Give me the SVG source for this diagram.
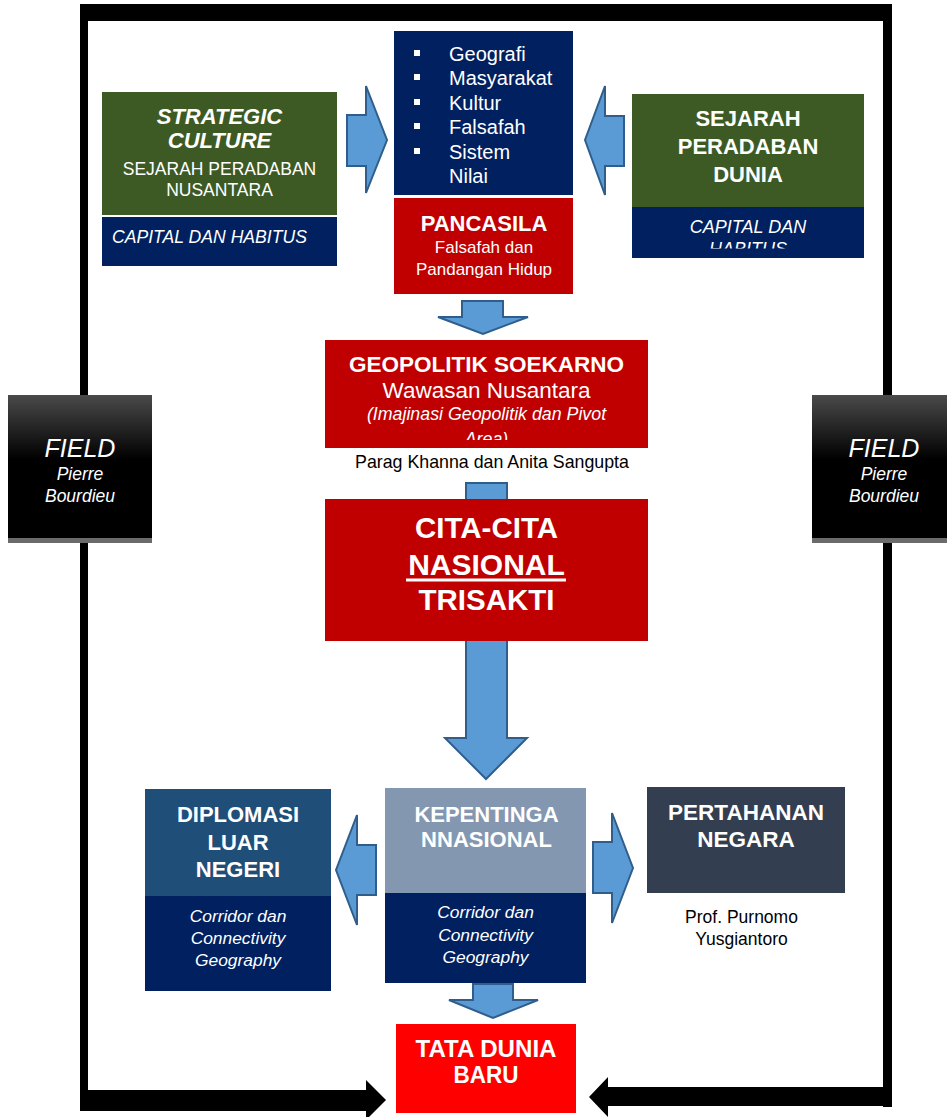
<svg xmlns="http://www.w3.org/2000/svg" width="947" height="1117" viewBox="0 0 947 1117">
  <defs>
    <style>
      text { font-family: "Liberation Sans", Arial, sans-serif; fill: #ffffff; text-anchor: middle; }
      .b { font-weight: bold; }
      .i { font-style: italic; }
      .dark { fill: #000000; }
      .blk { fill: #5B9BD5; stroke: #2F5E8C; stroke-width: 2; stroke-linejoin: miter; }
      .frame { fill: #000000; }
    </style>
    <linearGradient id="fieldGrad" x1="0" y1="0" x2="0" y2="1">
      <stop offset="0" stop-color="#4a4a4a"/>
      <stop offset="0.45" stop-color="#000000"/>
      <stop offset="1" stop-color="#000000"/>
    </linearGradient>
    <clipPath id="clipHabitus"><rect x="632" y="207" width="232" height="41.5"/></clipPath>
    <clipPath id="clipArea"><rect x="325" y="340" width="323" height="100"/></clipPath>
  </defs>

  <!-- frame and block-arrow connectors -->
  <g id="connectors">
    <!-- outer feedback frame -->
    <rect class="frame" x="80" y="4" width="812" height="17"/>
    <rect class="frame" x="80" y="4" width="8" height="1107"/>
    <rect class="frame" x="883" y="4" width="9" height="1103"/>
    <polygon class="frame" points="80,1090 366,1090 366,1080 386,1100 366,1120 366,1111 80,1111"/>
    <polygon class="frame" points="892,1087 608,1087 608,1077 589,1097 608,1117 608,1106 892,1106"/>

    <!-- block arrows -->
    <polygon class="blk" points="347,115 366,115 366,86 387,140 366,193 366,166 347,166"/>
    <polygon class="blk" points="624,116 605,116 605,86 585,140 605,195 605,166 624,166"/>
    <polygon class="blk" points="462,301 503,301 503,317 528,317 483,334 438,317 462,317"/>
    <polygon class="blk" points="466,483 507,483 507,738 527,738 486,779 445,738 466,738"/>
    <polygon class="blk" points="376,845 357,845 357,815 336,870 357,925 357,895 376,895"/>
    <polygon class="blk" points="593,842 612,842 612,813 633,868 612,923 612,893 593,893"/>
    <polygon class="blk" points="473,984 513,984 513,1000 538,1000 493,1018 449,1000 473,1000"/>
  </g>

  <!-- FIELD, left -->
  <g id="field-left">
    <rect x="8" y="538" width="144" height="5" fill="#6b6b6b"/>
    <rect x="8" y="395" width="144" height="143" fill="url(#fieldGrad)"/>
    <text class="i" x="80" y="457" font-size="25">FIELD</text>
    <text class="i" x="80" y="480" font-size="17.5">Pierre</text>
    <text class="i" x="80" y="502" font-size="17.5">Bourdieu</text>
  </g>

  <!-- FIELD, right -->
  <g id="field-right">
    <rect x="812" y="538" width="135" height="5" fill="#6b6b6b"/>
    <rect x="812" y="395" width="135" height="143" fill="url(#fieldGrad)"/>
    <text class="i" x="884" y="457" font-size="25">FIELD</text>
    <text class="i" x="884" y="480" font-size="17.5">Pierre</text>
    <text class="i" x="884" y="502" font-size="17.5">Bourdieu</text>
  </g>

  <!-- Strategic culture -->
  <g id="strategic-culture">
    <rect x="102" y="92" width="235" height="123" fill="#3D5A25"/>
    <rect x="102" y="217" width="235" height="49" fill="#002060"/>
    <text class="b i" x="219.5" y="124" font-size="22">STRATEGIC</text>
    <text class="b i" x="219.5" y="148" font-size="22">CULTURE</text>
    <text x="219.5" y="175" font-size="17.5">SEJARAH PERADABAN</text>
    <text x="219.5" y="196" font-size="17.5">NUSANTARA</text>
    <text class="i" x="112" y="243" font-size="17.6" style="text-anchor:start">CAPITAL DAN HABITUS</text>
  </g>

  <!-- Bullet list -->
  <g id="list">
    <rect x="394" y="31" width="179" height="164" fill="#002060"/>
    <g fill="#ffffff">
      <rect x="414" y="50" width="6" height="6"/>
      <rect x="414" y="74" width="6" height="6"/>
      <rect x="414" y="99" width="6" height="6"/>
      <rect x="414" y="123" width="6" height="6"/>
      <rect x="414" y="148" width="6" height="6"/>
    </g>
    <g font-size="20">
      <text x="449" y="61" style="text-anchor:start">Geografi</text>
      <text x="449" y="85" style="text-anchor:start">Masyarakat</text>
      <text x="449" y="110" style="text-anchor:start">Kultur</text>
      <text x="449" y="134" style="text-anchor:start">Falsafah</text>
      <text x="449" y="159" style="text-anchor:start">Sistem</text>
      <text x="449" y="183" style="text-anchor:start">Nilai</text>
    </g>
  </g>

  <!-- Pancasila -->
  <g id="pancasila">
    <rect x="394" y="198" width="179" height="96" fill="#C00000"/>
    <text class="b" x="484" y="231" font-size="22">PANCASILA</text>
    <text x="484" y="253" font-size="17">Falsafah dan</text>
    <text x="484" y="275" font-size="17">Pandangan Hidup</text>
  </g>

  <!-- Sejarah peradaban dunia -->
  <g id="sejarah-dunia">
    <rect x="632" y="94" width="232" height="113" fill="#3D5A25"/>
    <rect x="632" y="207" width="232" height="51" fill="#002060"/>
    <text class="b" x="748" y="126" font-size="22">SEJARAH</text>
    <text class="b" x="748" y="154" font-size="22">PERADABAN</text>
    <text class="b" x="748" y="182" font-size="22">DUNIA</text>
    <text class="i" x="748" y="233" font-size="18">CAPITAL DAN</text>
    <text class="i" x="748" y="255" font-size="18" clip-path="url(#clipHabitus)">HABITUS</text>
  </g>

  <!-- Geopolitik Soekarno -->
  <g id="geopolitik">
    <rect x="325" y="340" width="323" height="108" fill="#C00000"/>
    <text class="b" x="486.5" y="372" font-size="22.5">GEOPOLITIK SOEKARNO</text>
    <text x="486.5" y="398" font-size="22.5">Wawasan Nusantara</text>
    <text class="i" x="486.5" y="420" font-size="17.8">(Imajinasi Geopolitik dan Pivot</text>
    <text class="i" x="486.5" y="444.5" font-size="17.8" clip-path="url(#clipArea)">Area)</text>
    <text class="dark" x="492" y="468" font-size="17.8">Parag Khanna dan Anita Sangupta</text>
  </g>

  <!-- Cita-cita nasional -->
  <g id="cita-cita">
    <rect x="325" y="499" width="323" height="142" fill="#C00000"/>
    <text class="b" x="486.5" y="538" font-size="29.5">CITA-CITA</text>
    <text class="b" x="486.5" y="575" font-size="30">NASIONAL</text>
    <rect x="406" y="578.5" width="160" height="3" fill="#ffffff"/>
    <text class="b" x="486.5" y="610" font-size="29.5">TRISAKTI</text>
  </g>

  <!-- Diplomasi luar negeri -->
  <g id="diplomasi">
    <rect x="145" y="789" width="186" height="107" fill="#1F4E79"/>
    <rect x="145" y="896" width="186" height="95" fill="#002060"/>
    <text class="b" x="238" y="822" font-size="22">DIPLOMASI</text>
    <text class="b" x="238" y="850" font-size="22">LUAR</text>
    <text class="b" x="238" y="877" font-size="22">NEGERI</text>
    <text class="i" x="238" y="922" font-size="17.4">Corridor dan</text>
    <text class="i" x="238" y="944" font-size="17.4">Connectivity</text>
    <text class="i" x="238" y="966" font-size="17.4">Geography</text>
  </g>

  <!-- Kepentingan nasional -->
  <g id="kepentingan">
    <rect x="385" y="788" width="201" height="105" fill="#8497B0"/>
    <rect x="385" y="893" width="201" height="90" fill="#002060"/>
    <text class="b" x="486.5" y="822" font-size="22">KEPENTINGA</text>
    <text class="b" x="486.5" y="847" font-size="22">NNASIONAL</text>
    <text class="i" x="485.5" y="918" font-size="17.4">Corridor dan</text>
    <text class="i" x="485.5" y="941" font-size="17.4">Connectivity</text>
    <text class="i" x="485.5" y="963" font-size="17.4">Geography</text>
  </g>

  <!-- Pertahanan negara -->
  <g id="pertahanan">
    <rect x="647" y="787" width="198" height="106" fill="#333F50"/>
    <text class="b" x="746" y="820" font-size="22.5">PERTAHANAN</text>
    <text class="b" x="746" y="847" font-size="22.5">NEGARA</text>
    <text class="dark" x="741.5" y="923" font-size="17.5">Prof. Purnomo</text>
    <text class="dark" x="741.5" y="945" font-size="17.5">Yusgiantoro</text>
  </g>

  <!-- Tata dunia baru -->
  <g id="tata-dunia">
    <rect x="396" y="1024" width="180" height="89" fill="#FF0000"/>
    <text class="b" x="486" y="1057" font-size="24" textLength="141" lengthAdjust="spacingAndGlyphs">TATA DUNIA</text>
    <text class="b" x="486" y="1083" font-size="24" textLength="65" lengthAdjust="spacingAndGlyphs">BARU</text>
  </g>
</svg>
